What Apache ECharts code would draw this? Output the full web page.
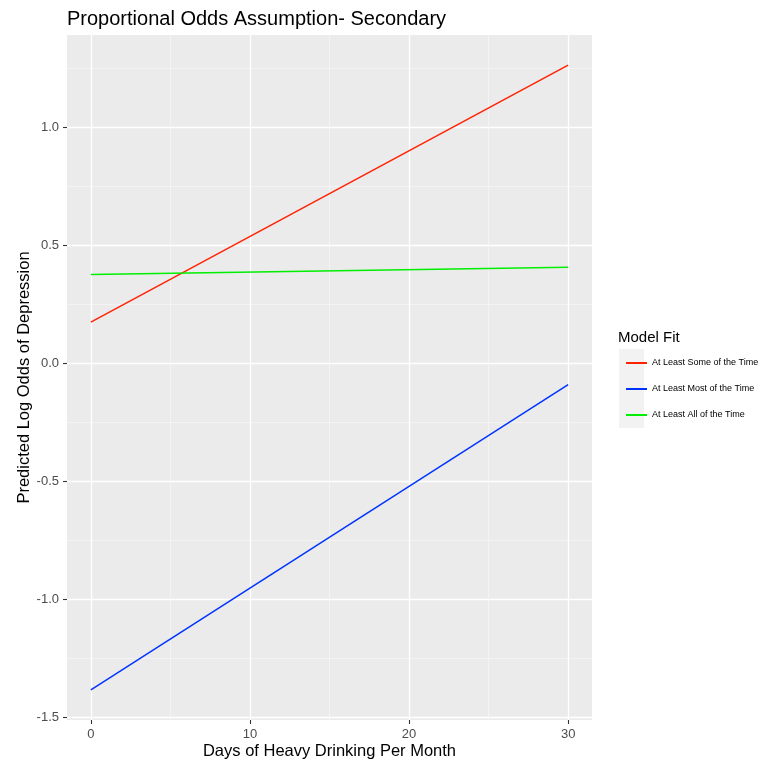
<!DOCTYPE html>
<html>
<head>
<meta charset="utf-8">
<script src="https://cdn.jsdelivr.net/npm/echarts@6/dist/echarts.min.js"></script>
<style>
  html, body { margin: 0; padding: 0; background: #ffffff; }
  #chart { width: 769px; height: 763px; }
</style>
</head>
<body>
<div id="chart"></div>
<script>
// Predicted log odds at the ends of the observed range (days 0 and 30)
const days = [0, 30];
const someOfTime = [0.175, 1.265];
const mostOfTime = [-1.384, -0.09];
const allOfTime = [0.377, 0.408];

const seriesNames = ['At Least Some of the Time', 'At Least Most of the Time', 'At Least All of the Time'];
const seriesColors = ['#ff2200', '#0033ff', '#00ee00'];

const xTicks = [0, 10, 20, 30];
const xMinor = [5, 15, 25];
const yTicks = [-1.5, -1.0, -0.5, 0.0, 0.5, 1.0];
const yMinor = [-1.25, -0.75, -0.25, 0.25, 0.75, 1.25];

const X_MIN = -1.5, X_MAX = 31.5;
const Y_MIN = -1.512, Y_MAX = 1.393;

const FONT = '"Liberation Sans", Arial, Helvetica, sans-serif';

function pairs(xs, ys) { return xs.map((x, i) => [x, ys[i]]); }

const chart = echarts.init(document.getElementById('chart'), null, { renderer: 'canvas' });

const gridBox = { left: 67, top: 35, right: 177, bottom: 43 };

const majorAxisX = {
  type: 'value', min: X_MIN, max: X_MAX, gridIndex: 0, position: 'bottom',
  name: 'Days of Heavy Drinking Per Month',
  nameLocation: 'middle', nameGap: 23, nameMoveOverlap: false,
  nameTextStyle: { fontFamily: FONT, fontSize: 16.5, color: '#000' },
  axisLine: { show: false, onZero: false },
  axisTick: { show: true, length: 4, lineStyle: { color: '#333333', width: 1.1 }, customValues: xTicks },
  axisLabel: { customValues: xTicks, margin: 8, fontFamily: FONT, fontSize: 13, color: '#4d4d4d' },
  splitLine: { show: true, lineStyle: { color: '#ffffff', width: 1.3 } }
};
const minorAxisX = {
  type: 'value', min: X_MIN, max: X_MAX, gridIndex: 0, position: 'top',
  axisLine: { show: false, onZero: false },
  axisTick: { show: false, customValues: xMinor },
  axisLabel: { show: false, customValues: xMinor },
  splitLine: { show: true, lineStyle: { color: '#f7f7f7', width: 0.7 } }
};
const majorAxisY = {
  type: 'value', min: Y_MIN, max: Y_MAX, gridIndex: 0, position: 'left',
  name: 'Predicted Log Odds of Depression',
  nameLocation: 'middle', nameGap: 34, nameRotate: 90, nameMoveOverlap: false,
  nameTextStyle: { fontFamily: FONT, fontSize: 16.5, color: '#000' },
  axisLine: { show: false, onZero: false },
  axisTick: { show: true, length: 4, lineStyle: { color: '#333333', width: 1.1 }, customValues: yTicks },
  axisLabel: {
    customValues: yTicks, margin: 8, fontFamily: FONT, fontSize: 13, color: '#4d4d4d',
    formatter: v => v.toFixed(1)
  },
  splitLine: { show: true, lineStyle: { color: '#ffffff', width: 1.3 } }
};
const minorAxisY = {
  type: 'value', min: Y_MIN, max: Y_MAX, gridIndex: 0, position: 'right',
  axisLine: { show: false, onZero: false },
  axisTick: { show: false, customValues: yMinor },
  axisLabel: { show: false, customValues: yMinor },
  splitLine: { show: true, lineStyle: { color: '#f7f7f7', width: 0.7 } }
};

const values = [someOfTime, mostOfTime, allOfTime];

const option = {
  animation: false,
  backgroundColor: '#ffffff',
  textStyle: { fontFamily: FONT },
  title: [
    {
      text: 'Proportional Odds Assumption- Secondary',
      left: 62, top: 4,
      textStyle: { fontFamily: FONT, fontSize: 20, fontWeight: 'normal', color: '#000' }
    },
    {
      text: 'Model Fit',
      left: 613, top: 325,
      textStyle: { fontFamily: FONT, fontSize: 15, fontWeight: 'normal', color: '#000' }
    }
  ],
  grid: Object.assign({ show: true, backgroundColor: '#ebebeb', borderWidth: 0, outerBoundsMode: 'none', containLabel: false }, gridBox),
  xAxis: [minorAxisX, majorAxisX],
  yAxis: [minorAxisY, majorAxisY],
  graphic: [
    { type: 'rect', left: 619, top: 349, shape: { width: 25, height: 79 }, style: { fill: '#f2f2f2' }, z: -1 }
  ],
  legend: {
    orient: 'vertical', left: 621, top: 353,
    itemWidth: 21, itemHeight: 2, itemGap: 16,
    icon: 'rect',
    data: seriesNames,
    textStyle: { fontFamily: FONT, fontSize: 9, color: '#000', lineHeight: 10 }
  },
  series: seriesNames.map((name, i) => ({
    name: name, type: 'line',
    xAxisIndex: 1, yAxisIndex: 1,
    data: pairs(days, values[i]),
    symbol: 'none',
    lineStyle: { color: seriesColors[i], width: 1.5 },
    itemStyle: { color: seriesColors[i] },
    z: 3
  }))
};

chart.setOption(option);
</script>
</body>
</html>
